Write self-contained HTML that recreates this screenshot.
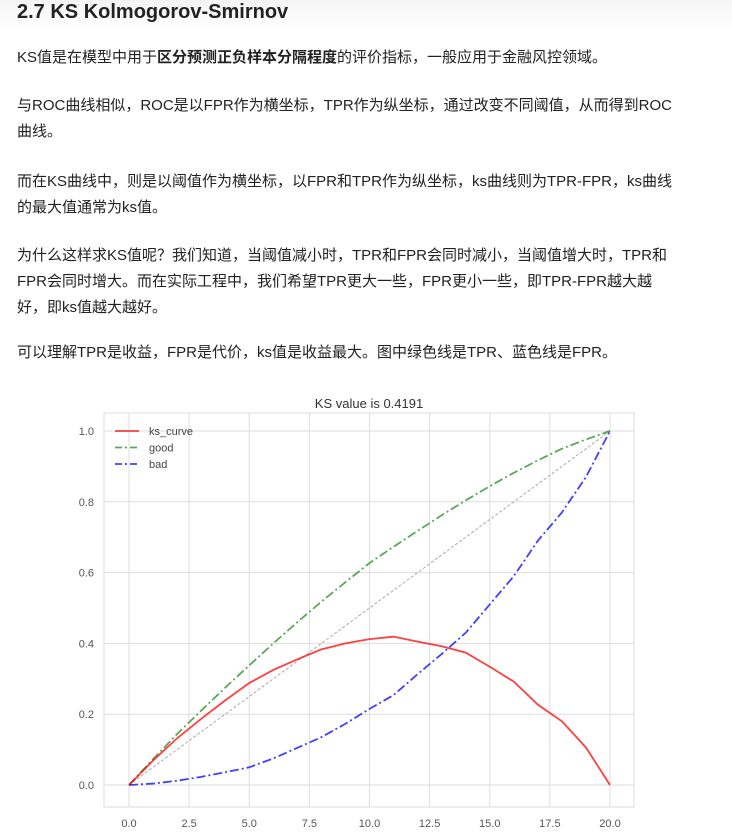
<!DOCTYPE html>
<html><head><meta charset="utf-8"><style>
body{margin:0;width:732px;height:836px;overflow:hidden;background:#fff;font-family:"Liberation Sans","Noto Sans CJK SC",sans-serif;color:#222;}
h2{margin:0;position:absolute;left:17px;top:0px;font-size:20px;line-height:24px;font-weight:bold;color:#222;}
.hbg{position:absolute;left:0;top:0;width:732px;height:30px;background:linear-gradient(#f4f4f4,#fff);}
p{position:absolute;left:17px;margin:0;font-size:15px;line-height:26px;white-space:nowrap;}
svg{position:absolute;left:0;top:0;}
</style></head><body>
<div class="hbg"></div>
<h2>2.7 KS Kolmogorov-Smirnov</h2>
<p style="top:45px">KS值是在模型中用于<b>区分预测正负样本分隔程度</b>的评价指标，一般应用于金融风控领域。</p>
<p style="top:93px">与ROC曲线相似，ROC是以FPR作为横坐标，TPR作为纵坐标，通过改变不同阈值，从而得到ROC<br>曲线。</p>
<p style="top:169px">而在KS曲线中，则是以阈值作为横坐标，以FPR和TPR作为纵坐标，ks曲线则为TPR-FPR，ks曲线<br>的最大值通常为ks值。</p>
<p style="top:243px">为什么这样求KS值呢？我们知道，当阈值减小时，TPR和FPR会同时减小，当阈值增大时，TPR和<br>FPR会同时增大。而在实际工程中，我们希望TPR更大一些，FPR更小一些，即TPR-FPR越大越<br>好，即ks值越大越好。</p>
<p style="top:340px">可以理解TPR是收益，FPR是代价，ks值是收益最大。图中绿色线是TPR、蓝色线是FPR。</p>
<svg id="chart" width="732" height="836"></svg>
<script>
const xs=[0,1,2,3,4,5,6,7,8,9,10,11,12,13,14,15,16,17,18,19,20];
const good=[0,0.073,0.144,0.21,0.275,0.338,0.4,0.46,0.518,0.573,0.627,0.673,0.718,0.762,0.804,0.844,0.882,0.917,0.95,0.976,1.0];
const bad=[0,0.004,0.012,0.023,0.036,0.05,0.075,0.105,0.135,0.173,0.215,0.254,0.313,0.37,0.43,0.51,0.59,0.69,0.77,0.87,1.0];
const ks=[0,0.069,0.132,0.187,0.239,0.288,0.325,0.355,0.383,0.4,0.412,0.419,0.405,0.392,0.374,0.334,0.292,0.227,0.18,0.106,0];
const xTicks=[0,2.5,5,7.5,10,12.5,15,17.5,20];
const yTicks=[0,0.2,0.4,0.6,0.8,1.0];
const L=104,R=634,T=413,B=807;
const X=v=>129+(610-129)*v/20, Y=v=>785-(785-431)*v;
const s=document.getElementById('chart'),NS='http://www.w3.org/2000/svg';
function mk(t,a,p){const e=document.createElementNS(NS,t);for(const k in a)e.setAttribute(k,a[k]);(p||s).appendChild(e);return e;}
let e=mk('rect',{x:L,y:T,width:R-L,height:B-T,fill:'#fff',stroke:'#ddd'});


xTicks.forEach(v=>{let g=mk('line',{x1:X(v),x2:X(v),y1:T,y2:B,stroke:'#ddd'});


let t=mk('text',{x:X(v),y:B+20,'text-anchor':'middle','font-size':11,fill:'#555','font-family':'Liberation Sans'});t.textContent=v.toFixed(1);

});
yTicks.forEach(v=>{let g=mk('line',{x1:L,x2:R,y1:Y(v),y2:Y(v),stroke:'#ddd'});


let t=mk('text',{x:L-10,y:Y(v)+4,'text-anchor':'end','font-size':11,fill:'#555','font-family':'Liberation Sans'});t.textContent=v.toFixed(1);

});
let d=mk('line',{x1:X(0),y1:Y(0),x2:X(20),y2:Y(1),stroke:'#aaa','stroke-dasharray':'3,2'});


function line(arr,col,dash,name){const pts=xs.map((x,i)=>X(x)+','+Y(arr[i])).join(' ');
const p=mk('polyline',{points:pts,fill:'none',stroke:col,'stroke-width':1.8,'stroke-dasharray':dash,'stroke-opacity':0.75});

}
line(good,'#228b22','9,3,2,3','good-line');
line(bad,'#0000ff','9,3,2,3','bad-line');
line(ks,'#ff0000','none','ks-curve-line');
let ti=mk('text',{x:369,y:408,'text-anchor':'middle','font-size':13,fill:'#333','font-family':'Liberation Sans'});ti.textContent='KS value is 0.4191';


[['ks_curve','#ff0000','none'],['good','#228b22','7,3,2,3'],['bad','#0000ff','7,3,2,3']].forEach((l,i)=>{const y=431+i*16.5;
let ln=mk('line',{x1:115,x2:139,y1:y,y2:y,stroke:l[1],'stroke-width':1.8,'stroke-dasharray':l[2],'stroke-opacity':0.75});


let t=mk('text',{x:149,y:y+4,'font-size':11,fill:'#444','font-family':'Liberation Sans'});t.textContent=l[0];

});
</script>
</body></html>
